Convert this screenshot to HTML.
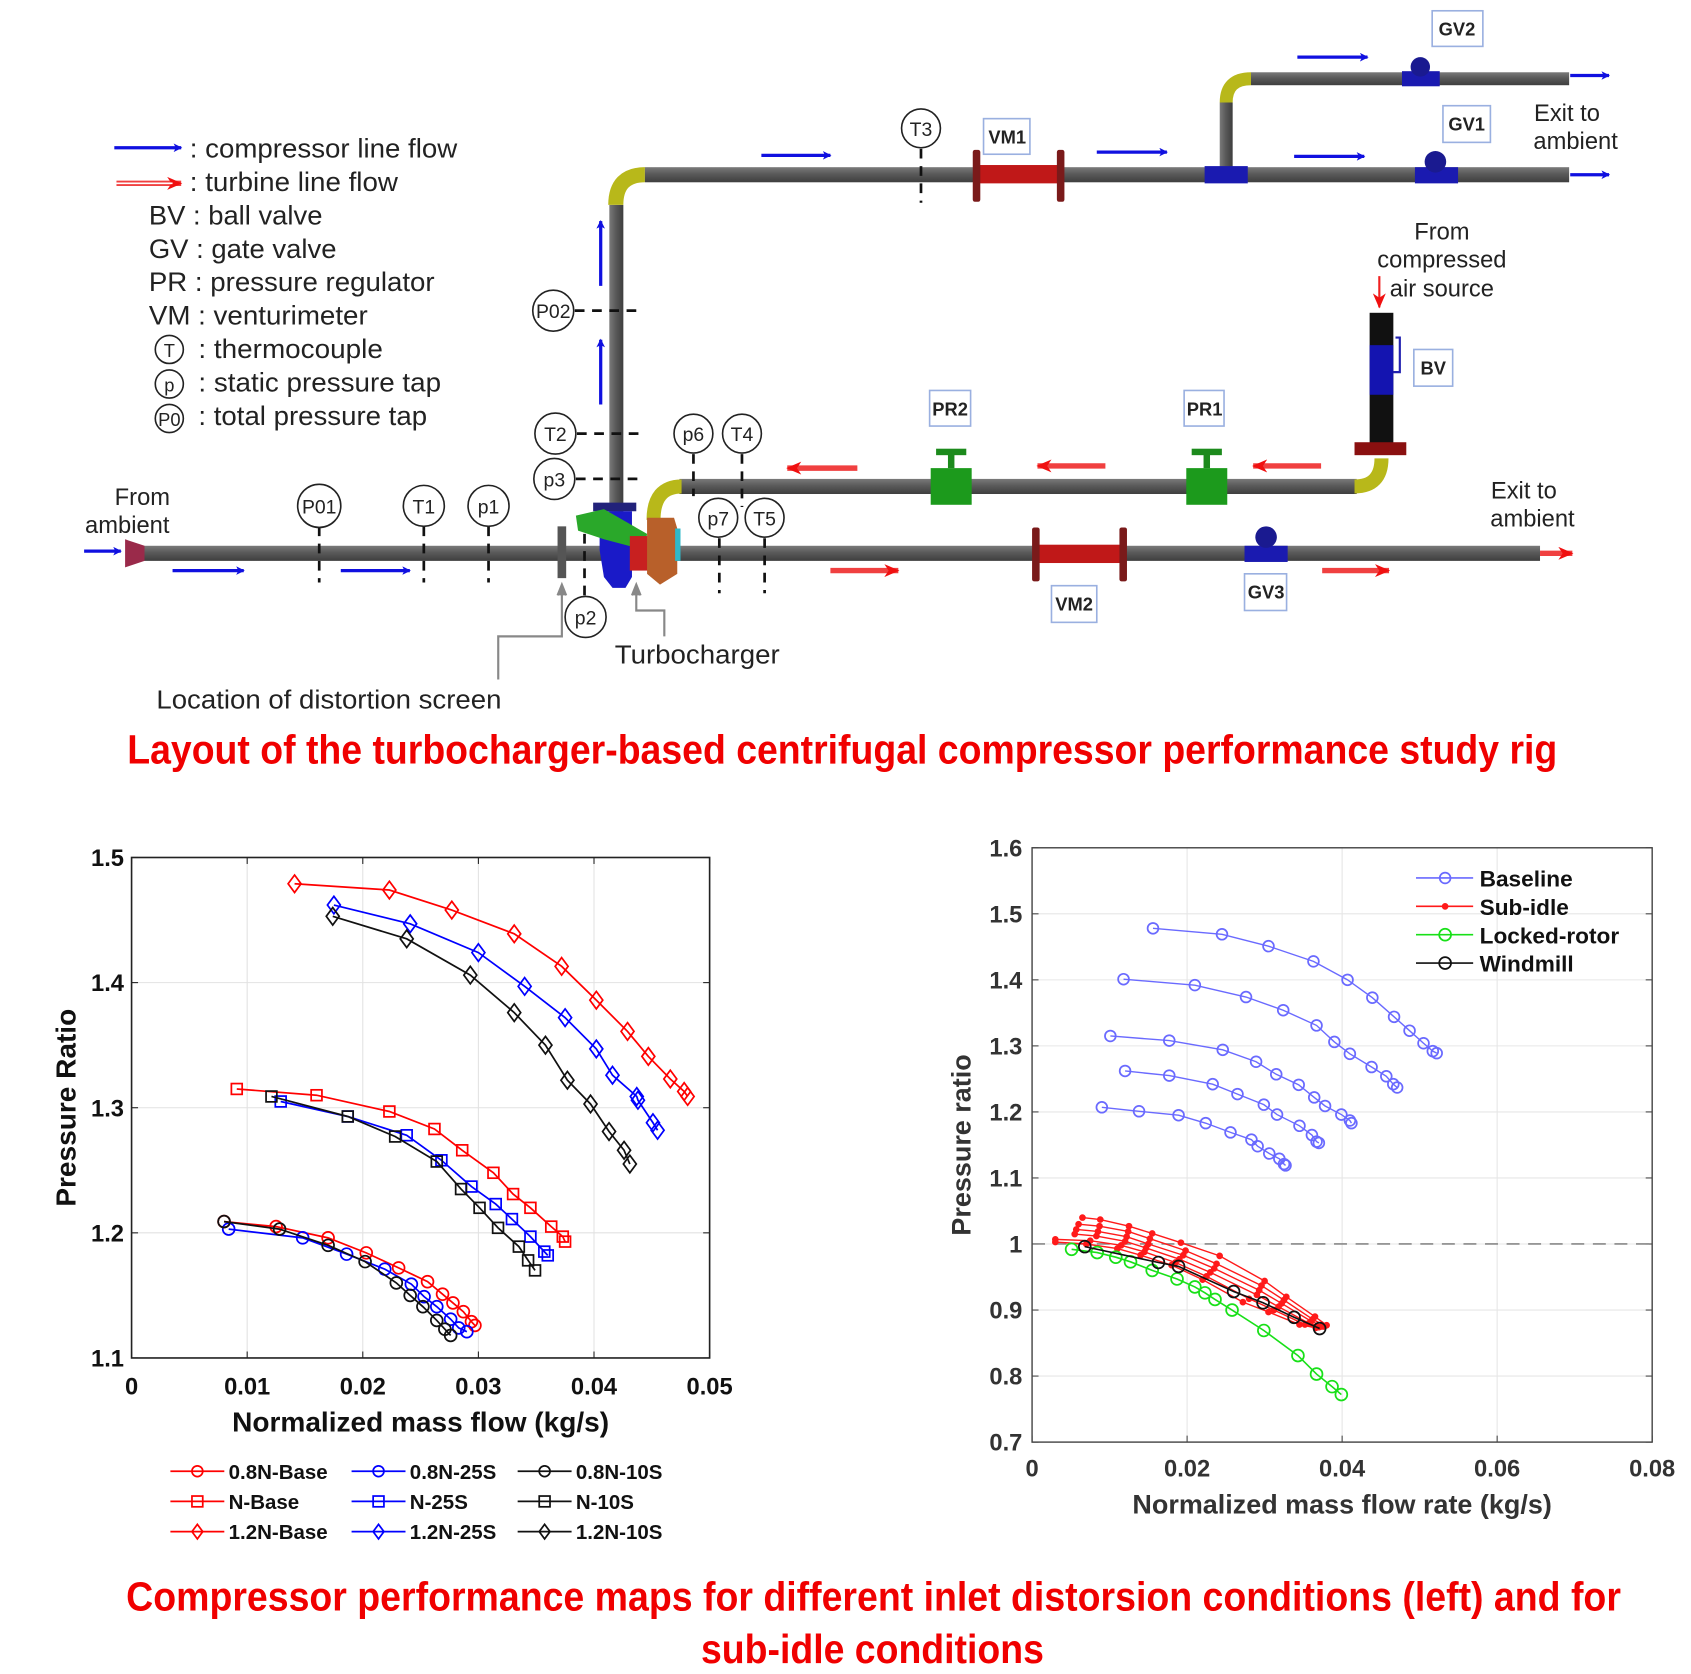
<!DOCTYPE html>
<html><head><meta charset="utf-8"><title>Compressor rig and performance maps</title>
<style>
html,body{margin:0;padding:0;background:#fff;}
svg{display:block;}
text{font-family:"Liberation Sans",Arial,sans-serif;}
</style></head>
<body>
<svg id="fig" width="1691" height="1674" viewBox="0 0 1568 1552" preserveAspectRatio="none" xmlns="http://www.w3.org/2000/svg">
<defs>
<linearGradient id="pipeH" x1="0" y1="0" x2="0" y2="1"><stop offset="0" stop-color="#7a7a7a"/><stop offset="0.45" stop-color="#5a5a5a"/><stop offset="1" stop-color="#3e3e3e"/></linearGradient>
<linearGradient id="pipeV" x1="0" y1="0" x2="1" y2="0"><stop offset="0" stop-color="#7a7a7a"/><stop offset="0.45" stop-color="#5a5a5a"/><stop offset="1" stop-color="#3e3e3e"/></linearGradient>
<marker id="ab" markerWidth="8" markerHeight="8" refX="7" refY="4" orient="auto" markerUnits="userSpaceOnUse"><path d="M0,0 L8,4 L0,8 L2,4 z" fill="#1010e0"/></marker>
<marker id="ar" markerWidth="14" markerHeight="12" refX="13" refY="6" orient="auto" markerUnits="userSpaceOnUse"><path d="M0,0 L14,6 L0,12 L4,6 z" fill="#f01010"/></marker>
</defs>

<!-- ================= DIAGRAM ================= -->
<g>
<g font-size="25" fill="#222">
<line x1="106" y1="137" x2="168" y2="137" stroke="#1010e0" stroke-width="3" marker-end="url(#ab)"/>
<text x="176" y="146" textLength="248" lengthAdjust="spacingAndGlyphs">: compressor line flow</text>
<line x1="108" y1="170" x2="168" y2="170" stroke="#f04040" stroke-width="5" marker-end="url(#ar)"/>
<line x1="108" y1="170" x2="160" y2="170" stroke="#fff" stroke-width="1.5"/>
<text x="176" y="177" textLength="193" lengthAdjust="spacingAndGlyphs">: turbine line flow</text>
<text x="138" y="208" textLength="161" lengthAdjust="spacingAndGlyphs">BV : ball valve</text>
<text x="138" y="239" textLength="174" lengthAdjust="spacingAndGlyphs">GV : gate valve</text>
<text x="138" y="270" textLength="265" lengthAdjust="spacingAndGlyphs">PR : pressure regulator</text>
<text x="138" y="301" textLength="203" lengthAdjust="spacingAndGlyphs">VM : venturimeter</text>
<circle cx="157" cy="324" r="13" fill="none" stroke="#222" stroke-width="1.5"/><text x="157" y="331" font-size="17" text-anchor="middle">T</text>
<text x="184" y="332" textLength="171" lengthAdjust="spacingAndGlyphs">: thermocouple</text>
<circle cx="157" cy="356" r="13" fill="none" stroke="#222" stroke-width="1.5"/><text x="157" y="363" font-size="17" text-anchor="middle">p</text>
<text x="184" y="363" textLength="225" lengthAdjust="spacingAndGlyphs">: static pressure tap</text>
<circle cx="157" cy="388" r="13" fill="none" stroke="#222" stroke-width="1.5"/><text x="157" y="395" font-size="17" text-anchor="middle">P0</text>
<text x="184" y="394" textLength="212" lengthAdjust="spacingAndGlyphs">: total pressure tap</text>
</g>

<g>
<rect x="128" y="506" width="1300" height="14" fill="url(#pipeH)"/>
<path d="M116,500 L134,506 L134,520 L116,526 z" fill="#9a2a4a"/>
<rect x="565" y="190" width="13" height="285" fill="url(#pipeV)"/>
<path d="M571,190 Q571,162 598,162" fill="none" stroke="#b8b81a" stroke-width="14"/>
<rect x="598" y="155" width="857" height="14" fill="url(#pipeH)"/>
<rect x="1131" y="95" width="12" height="65" fill="url(#pipeV)"/>
<path d="M1137,95 Q1137,73 1160,73" fill="none" stroke="#b8b81a" stroke-width="12"/>
<rect x="1160" y="67" width="295" height="12" fill="url(#pipeH)"/>
<rect x="630" y="444" width="628" height="14" fill="url(#pipeH)"/>
<path d="M606,482 Q606,451 632,451" fill="none" stroke="#b8b81a" stroke-width="13"/>
<path d="M1256,451 Q1281,451 1281,425" fill="none" stroke="#b8b81a" stroke-width="13"/>
<rect x="1270" y="290" width="22" height="125" fill="#111"/>
<rect x="1270" y="320" width="22" height="46" fill="#1414b0"/>
<path d="M1294,313 L1298,313 L1298,345 L1292,345" fill="none" stroke="#2222b0" stroke-width="2"/>
<rect x="1256" y="410" width="48" height="12" fill="#8a1010"/>
</g>

<g>
<rect x="905" y="153" width="80" height="17" fill="#c01818"/>
<rect x="902" y="139" width="7" height="48" rx="2" fill="#7a1a1a"/><rect x="980" y="139" width="7" height="48" rx="2" fill="#7a1a1a"/>
<rect x="960" y="505" width="82" height="17" fill="#c01818"/>
<rect x="957" y="489" width="7" height="50" rx="2" fill="#7a1a1a"/><rect x="1038" y="489" width="7" height="50" rx="2" fill="#7a1a1a"/>
<rect x="1117" y="154" width="40" height="16" fill="#1a1ab0"/>
<rect x="1300" y="66" width="35" height="14" fill="#1a1ab0"/><circle cx="1317" cy="62" r="9" fill="#1a1a90"/>
<rect x="1312" y="155" width="40" height="15" fill="#1a1ab0"/><circle cx="1331" cy="150" r="10" fill="#1a1a90"/>
<rect x="1154" y="506" width="40" height="15" fill="#1a1ab0"/><circle cx="1174" cy="498" r="10" fill="#1a1a90"/>
<rect x="863" y="434" width="38" height="34" fill="#1c9a1c"/><rect x="879" y="420" width="6" height="14" fill="#1c8a1c"/><rect x="868" y="416" width="28" height="6" fill="#1c8a1c"/>
<rect x="1100" y="434" width="38" height="34" fill="#1c9a1c"/><rect x="1116" y="420" width="6" height="14" fill="#1c8a1c"/><rect x="1105" y="416" width="28" height="6" fill="#1c8a1c"/>
<g>
<rect x="517" y="488" width="8" height="48" fill="#555"/>
<rect x="550" y="466" width="40" height="8" fill="#22227a"/>
<path d="M556,474 L586,474 L586,535 L580,545 L568,545 L560,535 L556,510 z" fill="#1a1ac8"/>
<path d="M534,478 L560,472 L600,495 L598,510 L560,500 L536,492 z" fill="#2aa82a"/>
<rect x="584" y="497" width="20" height="32" fill="#c82020"/>
<path d="M600,480 L625,480 L628,490 L628,532 L612,542 L600,532 z" fill="#b8602a"/>
<rect x="626" y="490" width="5" height="30" fill="#30b8c8"/>
</g>
</g>

<g>
<g stroke="#1010e0" stroke-width="3">
<line x1="78" y1="511" x2="112" y2="511" marker-end="url(#ab)"/>
<line x1="160" y1="529" x2="226" y2="529" marker-end="url(#ab)"/>
<line x1="316" y1="529" x2="380" y2="529" marker-end="url(#ab)"/>
<line x1="557" y1="265" x2="557" y2="205" marker-end="url(#ab)"/>
<line x1="557" y1="375" x2="557" y2="315" marker-end="url(#ab)"/>
<line x1="706" y1="144" x2="770" y2="144" marker-end="url(#ab)"/>
<line x1="1017" y1="141" x2="1082" y2="141" marker-end="url(#ab)"/>
<line x1="1200" y1="145" x2="1265" y2="145" marker-end="url(#ab)"/>
<line x1="1203" y1="53" x2="1268" y2="53" marker-end="url(#ab)"/>
<line x1="1456" y1="70" x2="1492" y2="70" marker-end="url(#ab)"/>
<line x1="1456" y1="162" x2="1492" y2="162" marker-end="url(#ab)"/>
</g>
<g stroke="#f04040" stroke-width="5">
<line x1="795" y1="434" x2="730" y2="434" marker-end="url(#ar)"/>
<line x1="1025" y1="432" x2="962" y2="432" marker-end="url(#ar)"/>
<line x1="1225" y1="432" x2="1162" y2="432" marker-end="url(#ar)"/>
<line x1="770" y1="529" x2="833" y2="529" marker-end="url(#ar)"/>
<line x1="1226" y1="529" x2="1288" y2="529" marker-end="url(#ar)"/>
<line x1="1428" y1="513" x2="1458" y2="513" marker-end="url(#ar)"/>
</g>
<line x1="1279" y1="256" x2="1279" y2="285" stroke="#f02020" stroke-width="2" marker-end="url(#ar)"/>
</g>

<g font-size="18" fill="#222" text-anchor="middle">
<g stroke="#111" stroke-width="2.5" stroke-dasharray="9,7" fill="none">
<line x1="854" y1="138" x2="854" y2="188"/>
<line x1="533" y1="288" x2="595" y2="288"/>
<line x1="535" y1="402" x2="597" y2="402"/>
<line x1="534" y1="444" x2="597" y2="444"/>
<line x1="643" y1="421" x2="643" y2="460"/>
<line x1="688" y1="421" x2="688" y2="470"/>
<line x1="667" y1="499" x2="667" y2="550"/>
<line x1="709" y1="499" x2="709" y2="550"/>
<line x1="296" y1="488" x2="296" y2="540"/>
<line x1="393" y1="488" x2="393" y2="540"/>
<line x1="453" y1="488" x2="453" y2="540"/>
<line x1="542" y1="495" x2="542" y2="553"/>
</g>
<g fill="#fff" stroke="#222" stroke-width="1.5">
<circle cx="854" cy="119" r="18"/><circle cx="513" cy="288" r="19"/><circle cx="515" cy="402" r="19"/><circle cx="514" cy="444" r="19"/>
<circle cx="643" cy="402" r="18"/><circle cx="688" cy="402" r="18"/><circle cx="666" cy="480" r="18"/><circle cx="709" cy="480" r="18"/>
<circle cx="296" cy="469" r="20"/><circle cx="393" cy="469" r="19"/><circle cx="453" cy="469" r="19"/><circle cx="543" cy="572" r="19"/>
</g>
<text x="854" y="126">T3</text><text x="513" y="295">P02</text><text x="515" y="409">T2</text><text x="514" y="451">p3</text>
<text x="643" y="409">p6</text><text x="688" y="409">T4</text><text x="666" y="487">p7</text><text x="709" y="487">T5</text>
<text x="296" y="476">P01</text><text x="393" y="476">T1</text><text x="453" y="476">p1</text><text x="543" y="579">p2</text>
</g>

<g font-size="17" font-weight="bold" fill="#222" text-anchor="middle">
<g fill="#fff" stroke="#9ab0e0" stroke-width="1.5">
<rect x="1328" y="10" width="47" height="33"/><rect x="1338" y="98" width="44" height="34"/><rect x="912" y="110" width="43" height="33"/>
<rect x="1311" y="324" width="36" height="34"/><rect x="862" y="362" width="38" height="33"/><rect x="1098" y="362" width="37" height="33"/>
<rect x="975" y="543" width="42" height="34"/><rect x="1154" y="532" width="39" height="34"/>
</g>
<text x="1351" y="33">GV2</text><text x="1360" y="121">GV1</text><text x="934" y="133">VM1</text><text x="1329" y="347">BV</text>
<text x="881" y="385">PR2</text><text x="1117" y="385">PR1</text><text x="996" y="566">VM2</text><text x="1174" y="555">GV3</text>
</g>

<g stroke="#888" stroke-width="2" fill="none">
<path d="M462,630 L462,590 L521,590 L521,548"/>
<path d="M517,552 L521,542 L525,552" fill="#888"/>
<path d="M616,590 L616,566 L590,566 L590,548"/>
<path d="M586,552 L590,542 L594,552" fill="#888"/>
</g>

<g font-size="22" fill="#222">
<text x="132" y="468" text-anchor="middle">From</text><text x="118" y="494" text-anchor="middle">ambient</text>
<text x="1453" y="112" text-anchor="middle">Exit to</text><text x="1461" y="138" text-anchor="middle">ambient</text>
<text x="1337" y="222" text-anchor="middle">From</text><text x="1337" y="248" text-anchor="middle">compressed</text><text x="1337" y="275" text-anchor="middle">air source</text>
<text x="1413" y="462" text-anchor="middle">Exit to</text><text x="1421" y="488" text-anchor="middle">ambient</text>
<text x="570" y="615" font-size="24" textLength="153" lengthAdjust="spacingAndGlyphs">Turbocharger</text>
<text x="145" y="657" font-size="24" textLength="320" lengthAdjust="spacingAndGlyphs">Location of distortion screen</text>
</g>
<text x="118" y="708" font-size="38" font-weight="bold" fill="#f00000" textLength="1326" lengthAdjust="spacingAndGlyphs">Layout of the turbocharger-based centrifugal compressor performance study rig</text>
</g>

<g id="left-chart"></g>
<g id="right-chart"></g>

<text x="117" y="1493" font-size="38" font-weight="bold" fill="#f00000" textLength="1386" lengthAdjust="spacingAndGlyphs">Compressor performance maps for different inlet distorsion conditions (left) and for</text>
<text x="650" y="1542" font-size="38" font-weight="bold" fill="#f00000" textLength="318" lengthAdjust="spacingAndGlyphs">sub-idle conditions</text>
</svg>

<script>
// ---------- LEFT CHART DATA ----------
const leftXTicks = [0, 0.01, 0.02, 0.03, 0.04, 0.05];
const leftXTickLabels = ["0", "0.01", "0.02", "0.03", "0.04", "0.05"];
const leftYTicks = [1.1, 1.2, 1.3, 1.4, 1.5];
const leftYTickLabels = ["1.1", "1.2", "1.3", "1.4", "1.5"];
const leftSeriesNames = ["0.8N-Base","0.8N-25S","0.8N-10S","N-Base","N-25S","N-10S","1.2N-Base","1.2N-25S","1.2N-10S"];
const b08x = [.0080,.0125,.0170,.0203,.0231,.0256,.0269,.0278,.0287,.0294,.0297];
const b08y = [1.209,1.205,1.196,1.184,1.172,1.161,1.151,1.144,1.137,1.129,1.126];
const s25_08x = [.0084,.0148,.0186,.0219,.0242,.0253,.0264,.0276,.0283,.0290];
const s25_08y = [1.203,1.196,1.183,1.171,1.159,1.149,1.141,1.131,1.124,1.121];
const s10_08x = [.0080,.0128,.0170,.0202,.0229,.0241,.0252,.0264,.0271,.0276];
const s10_08y = [1.209,1.203,1.190,1.177,1.160,1.150,1.141,1.130,1.123,1.118];
const bNx = [.0091,.0160,.0223,.0262,.0286,.0313,.0330,.0345,.0363,.0373,.0375];
const bNy = [1.315,1.310,1.297,1.283,1.266,1.248,1.231,1.220,1.205,1.197,1.193];
const s25Nx = [.0129,.0187,.0238,.0268,.0294,.0315,.0329,.0345,.0357,.0360];
const s25Ny = [1.305,1.293,1.278,1.258,1.237,1.223,1.211,1.197,1.185,1.182];
const s10Nx = [.0121,.0187,.0228,.0264,.0285,.0301,.0317,.0335,.0343,.0349];
const s10Ny = [1.309,1.293,1.277,1.257,1.235,1.220,1.204,1.189,1.178,1.170];
const b12x = [.0141,.0223,.0277,.0331,.0372,.0402,.0429,.0447,.0466,.0478,.0481];
const b12y = [1.479,1.474,1.458,1.439,1.413,1.386,1.361,1.341,1.323,1.313,1.309];
const s25_12x = [.0175,.0241,.0300,.0340,.0375,.0402,.0416,.0437,.0438,.0451,.0455];
const s25_12y = [1.462,1.447,1.424,1.397,1.372,1.347,1.326,1.309,1.306,1.288,1.282];
const s10_12x = [.0174,.0238,.0293,.0331,.0358,.0377,.0397,.0413,.0426,.0431];
const s10_12y = [1.453,1.435,1.406,1.376,1.350,1.322,1.303,1.281,1.266,1.255];

// ---------- RIGHT CHART DATA ----------
const rightXTicks = [0, 0.02, 0.04, 0.06, 0.08];
const rightXTickLabels = ["0", "0.02", "0.04", "0.06", "0.08"];
const rightYTicks = [0.7, 0.8, 0.9, 1.0, 1.1, 1.2, 1.3, 1.4, 1.5, 1.6];
const rightYTickLabels = ["0.7","0.8","0.9","1","1.1","1.2","1.3","1.4","1.5","1.6"];
const rightLegendNames = ["Baseline","Sub-idle","Locked-rotor","Windmill"];
const base1x = [.0156,.0245,.0305,.0363,.0407,.0439,.0467,.0487,.0505,.0517,.0522];
const base1y = [1.478,1.469,1.451,1.428,1.400,1.373,1.344,1.323,1.304,1.292,1.289];
const base2x = [.0118,.0210,.0276,.0324,.0367,.0390,.0410,.0438,.0457,.0466,.0471];
const base2y = [1.401,1.392,1.374,1.354,1.331,1.306,1.288,1.268,1.254,1.242,1.237];
const base3x = [.0101,.0177,.0246,.0289,.0315,.0344,.0364,.0378,.0399,.0410,.0412];
const base3y = [1.315,1.308,1.294,1.276,1.257,1.241,1.222,1.209,1.196,1.187,1.183];
const base4x = [.0120,.0177,.0233,.0265,.0299,.0316,.0345,.0361,.0367,.0370];
const base4y = [1.262,1.255,1.242,1.227,1.211,1.196,1.179,1.165,1.155,1.153];
const base5x = [.0090,.0138,.0189,.0224,.0256,.0283,.0291,.0306,.0319,.0325,.0327];
const base5y = [1.207,1.201,1.195,1.183,1.169,1.158,1.148,1.137,1.129,1.121,1.119];
const sub1x = [.0065,.0088,.0125,.0155,.0192,.0242,.0300,.0328,.0365,.0380];
const sub1y = [1.040,1.037,1.027,1.016,1.002,0.982,0.944,0.920,0.890,0.877];
const sub2x = [.0060,.0087,.0124,.0152,.0198,.0238,.0296,.0325,.0362,.0378];
const sub2y = [1.030,1.027,1.019,1.008,0.990,0.970,0.937,0.915,0.886,0.876];
const sub3x = [.0057,.0085,.0122,.0150,.0195,.0235,.0293,.0322,.0360,.0376];
const sub3y = [1.022,1.019,1.011,1.000,0.983,0.963,0.930,0.910,0.883,0.875];
const sub4x = [.0055,.0083,.0120,.0147,.0190,.0230,.0290,.0318,.0357,.0373];
const sub4y = [1.015,1.012,1.004,0.994,0.977,0.957,0.923,0.905,0.880,0.875];
const sub5x = [.0030,.0075,.0115,.0145,.0185,.0225,.0280,.0312,.0352,.0370];
const sub5y = [1.007,1.005,0.998,0.988,0.972,0.951,0.917,0.900,0.878,0.874];
const sub6x = [.0030,.0070,.0110,.0140,.0180,.0220,.0272,.0305,.0345,.0366];
const sub6y = [1.003,1.000,0.993,0.983,0.968,0.946,0.912,0.897,0.878,0.873];
const lockedX = [.0051,.0084,.0108,.0127,.0155,.0187,.0210,.0223,.0236,.0258,.0299,.0343,.0367,.0387,.0399];
const lockedY = [0.992,0.987,0.980,0.973,0.960,0.947,0.935,0.926,0.916,0.900,0.869,0.831,0.803,0.784,0.772];
const windX = [.0068,.0163,.0189,.0260,.0298,.0338,.0371];
const windY = [0.996,0.972,0.966,0.928,0.911,0.889,0.872];

const NS = "http://www.w3.org/2000/svg";
function mk(tag, attrs, parent) {
  const e = document.createElementNS(NS, tag);
  for (const k in attrs) e.setAttribute(k, attrs[k]);
  parent.appendChild(e);
  return e;
}
function marker(shape, cx, cy, color, s, g) {
  let e;
  if (shape === "o") e = mk("circle", {cx: cx, cy: cy, r: s, fill: "none", stroke: color, "stroke-width": 1.6}, g);
  else if (shape === "s") e = mk("rect", {x: cx - s, y: cy - s, width: 2 * s, height: 2 * s, fill: "none", stroke: color, "stroke-width": 1.6}, g);
  else if (shape === "d") e = mk("path", {d: `M${cx},${cy - s * 1.35} L${cx + s},${cy} L${cx},${cy + s * 1.35} L${cx - s},${cy} Z`, fill: "none", stroke: color, "stroke-width": 1.6}, g);
  else e = mk("circle", {cx: cx, cy: cy, r: s, fill: color, stroke: color, "stroke-width": 1}, g);
  return e;
}

(function () {
  const root = document.getElementById("left-chart");
  const L = 122, R = 658, T = 795, B = 1259;
  const xMin = 0, xMax = 0.05, yMin = 1.1, yMax = 1.5;
  const sx = v => L + (v - xMin) / (xMax - xMin) * (R - L);
  const sy = v => B - (v - yMin) / (yMax - yMin) * (B - T);
  const grid = mk("g", {}, root);
  
  
  leftXTicks.forEach((t, i) => {
    if (i > 0 && i < leftXTicks.length - 1) mk("line", {x1: sx(t), y1: T, x2: sx(t), y2: B, stroke: "#e2e2e2", "stroke-width": 1}, grid);
    const tl = mk("text", {x: sx(t), y: B + 34, "font-size": 22, "font-weight": "bold", "text-anchor": "middle", fill: "#111"}, root);
    tl.textContent = leftXTickLabels[i];
    
    
    mk("line", {x1: sx(t), y1: B, x2: sx(t), y2: B - 6, stroke: "#222"}, grid);
    mk("line", {x1: sx(t), y1: T, x2: sx(t), y2: T + 6, stroke: "#222"}, grid);
  });
  leftYTicks.forEach((t, i) => {
    if (i > 0 && i < leftYTicks.length - 1) mk("line", {x1: L, y1: sy(t), x2: R, y2: sy(t), stroke: "#e2e2e2", "stroke-width": 1}, grid);
    const tl = mk("text", {x: L - 7, y: sy(t) + 8, "font-size": 22, "font-weight": "bold", "text-anchor": "end", fill: "#111"}, root);
    tl.textContent = leftYTickLabels[i];
    
    
    mk("line", {x1: L, y1: sy(t), x2: L + 6, y2: sy(t), stroke: "#222"}, grid);
    mk("line", {x1: R, y1: sy(t), x2: R - 6, y2: sy(t), stroke: "#222"}, grid);
  });
  const frame = mk("rect", {x: L, y: T, width: R - L, height: B - T, fill: "none", stroke: "#222", "stroke-width": 1.5}, root);
  
  
  const xt = mk("text", {x: (L + R) / 2, y: 1327, "font-size": 26, "font-weight": "bold", "text-anchor": "middle", fill: "#111"}, root);
  xt.textContent = "Normalized mass flow (kg/s)";
  
  
  const yt = mk("text", {x: 0, y: 0, "font-size": 26, "font-weight": "bold", "text-anchor": "middle", fill: "#111", transform: `translate(70,${(T + B) / 2}) rotate(-90)`}, root);
  yt.textContent = "Pressure Ratio";
  
  

  const xs = [b08x, s25_08x, s10_08x, bNx, s25Nx, s10Nx, b12x, s25_12x, s10_12x];
  const ys = [b08y, s25_08y, s10_08y, bNy, s25Ny, s10Ny, b12y, s25_12y, s10_12y];
  const colors = ["#ff0000", "#0000ff", "#111111"];
  const shapes = ["o", "s", "d"];
  const sizes = [5.5, 5, 6];
  for (let k = 0; k < 9; k++) {
    const col = colors[k % 3], sh = shapes[Math.floor(k / 3)], sz = sizes[Math.floor(k / 3)];
    const g = mk("g", {}, root);
    
    
    const pts = xs[k].map((v, i) => sx(v) + "," + sy(ys[k][i])).join(" ");
    mk("polyline", {points: pts, fill: "none", stroke: col, "stroke-width": 1.6}, g);
    xs[k].forEach((v, i) => {
      const m = marker(sh, sx(v), sy(ys[k][i]), col, sz, g);
      
      
    });
  }
  const lg = mk("g", {}, root);
  
  
  const colX = [158, 326, 480];
  const rowY = [1364, 1392, 1420];
  for (let k = 0; k < 9; k++) {
    const c = k % 3, r = Math.floor(k / 3);
    const x0 = colX[c], y0 = rowY[r];
    const e = mk("g", {}, lg);
    
    
    mk("line", {x1: x0, y1: y0, x2: x0 + 50, y2: y0, stroke: colors[c], "stroke-width": 1.6}, e);
    marker(shapes[r], x0 + 25, y0, colors[c], 5, e);
    const t = mk("text", {x: x0 + 54, y: y0 + 7, "font-size": 19, "font-weight": "bold", fill: "#111"}, e);
    t.textContent = leftSeriesNames[k];
  }
})();

(function () {
  const root = document.getElementById("right-chart");
  const L = 957, R = 1532, T = 786, B = 1337;
  const xMin = 0, xMax = 0.08, yMin = 0.7, yMax = 1.6;
  const sx = v => L + (v - xMin) / (xMax - xMin) * (R - L);
  const sy = v => B - (v - yMin) / (yMax - yMin) * (B - T);
  const grid = mk("g", {}, root);
  
  
  rightXTicks.forEach((t, i) => {
    if (i > 0 && i < rightXTicks.length - 1) mk("line", {x1: sx(t), y1: T, x2: sx(t), y2: B, stroke: "#e6e6e6"}, grid);
    const tl = mk("text", {x: sx(t), y: B + 32, "font-size": 22, "font-weight": "bold", "text-anchor": "middle", fill: "#333"}, root);
    tl.textContent = rightXTickLabels[i];
    
    
    mk("line", {x1: sx(t), y1: B, x2: sx(t), y2: B - 6, stroke: "#444"}, grid);
  });
  rightYTicks.forEach((t, i) => {
    if (i > 0 && i < rightYTicks.length - 1) mk("line", {x1: L, y1: sy(t), x2: R, y2: sy(t), stroke: "#e6e6e6"}, grid);
    const tl = mk("text", {x: L - 9, y: sy(t) + 8, "font-size": 22, "font-weight": "bold", "text-anchor": "end", fill: "#333"}, root);
    tl.textContent = rightYTickLabels[i];
    
    
    mk("line", {x1: L, y1: sy(t), x2: L + 6, y2: sy(t), stroke: "#444"}, grid);
    mk("line", {x1: R, y1: sy(t), x2: R - 6, y2: sy(t), stroke: "#444"}, grid);
  });
  const ref = mk("line", {x1: L, y1: sy(1), x2: R, y2: sy(1), stroke: "#888", "stroke-width": 1.5, "stroke-dasharray": "12,8"}, root);
  
  
  const frame = mk("rect", {x: L, y: T, width: R - L, height: B - T, fill: "none", stroke: "#444", "stroke-width": 1.3}, root);
  
  
  const xt = mk("text", {x: (L + R) / 2, y: 1403, "font-size": 25, "font-weight": "bold", "text-anchor": "middle", fill: "#333"}, root);
  xt.textContent = "Normalized mass flow rate (kg/s)";
  
  
  const yt = mk("text", {x: 0, y: 0, "font-size": 25, "font-weight": "bold", "text-anchor": "middle", fill: "#333", transform: `translate(900,${(T + B) / 2}) rotate(-90)`}, root);
  yt.textContent = "Pressure ratio";
  
  

  function series(xa, ya, col, shape, size, name, lw) {
    const g = mk("g", {}, root);
    
    
    mk("polyline", {points: xa.map((v, i) => sx(v) + "," + sy(ya[i])).join(" "), fill: "none", stroke: col, "stroke-width": lw}, g);
    xa.forEach((v, i) => {
      const m = marker(shape, sx(v), sy(ya[i]), col, size, g);
      
      
    });
  }
  const bx = [base1x, base2x, base3x, base4x, base5x], by = [base1y, base2y, base3y, base4y, base5y];
  bx.forEach((a, i) => series(a, by[i], "#6a6aff", "o", 5, "baseline-curve-" + (i + 1), 1.3));
  const subx = [sub1x, sub2x, sub3x, sub4x, sub5x, sub6x], suby = [sub1y, sub2y, sub3y, sub4y, sub5y, sub6y];
  subx.forEach((a, i) => series(a, suby[i], "#ff1a1a", ".", 2.6, "sub-idle-curve-" + (i + 1), 1.3));
  series(lockedX, lockedY, "#18e018", "o", 5.5, "locked-rotor-curve", 1.5);
  series(windX, windY, "#111", "o", 5.5, "windmill-curve", 1.5);

  const lg = mk("g", {}, root);
  
  
  const lc = ["#6a6aff", "#ff1a1a", "#18e018", "#111"], ls = ["o", ".", "o", "o"], lz = [5, 2.6, 5.5, 5.5];
  rightLegendNames.forEach((n, i) => {
    const y0 = 814 + i * 26.3;
    const e = mk("g", {}, lg);
    
    
    mk("line", {x1: 1313, y1: y0, x2: 1366, y2: y0, stroke: lc[i], "stroke-width": 1.5}, e);
    marker(ls[i], 1340, y0, lc[i], lz[i], e);
    const t = mk("text", {x: 1372, y: y0 + 8, "font-size": 21, "font-weight": "bold", fill: "#111"}, e);
    t.textContent = n;
  });
})();
</script>
</body></html>
